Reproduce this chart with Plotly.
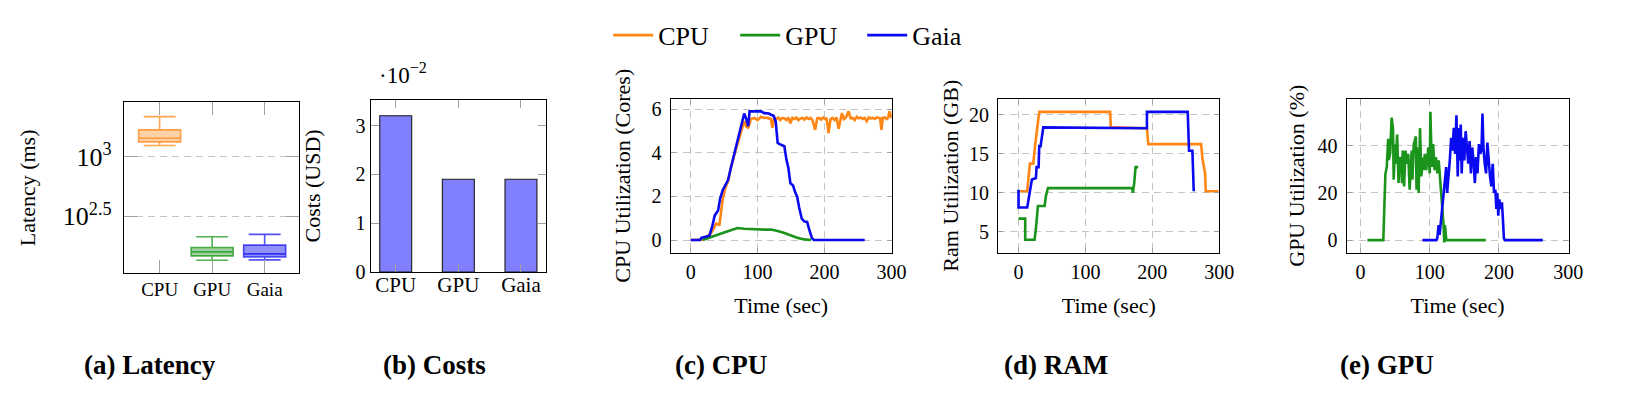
import plotly.graph_objects as go

W, H = 1635, 396
FONT = "Liberation Serif"

ORANGE = "#FF8514"
GREEN = "#1A941A"
BLUE = "#0A0AF0"

# ---------------- (a) Latency box statistics (ms) ----------------
LAT_CATS = ["CPU", "GPU", "Gaia"]
LAT_LOW = [1236, 136, 137]
LAT_Q1 = [1324, 148, 145]
LAT_MED = [1419, 160, 154]
LAT_Q3 = [1668, 174, 182]
LAT_HIGH = [2152, 214, 224]

# ---------------- (b) Costs (x 10^-2 USD) ----------------
COST_CATS = ["CPU", "GPU", "Gaia"]
COST_E2 = [3.2, 1.9, 1.9]

# ---------------- (c) CPU utilization (cores) ----------------
CPU_C_T = [0, 18, 22, 26, 30, 34, 38, 43, 48, 52,
           56, 60, 64, 68, 72, 76, 80, 83, 86, 90,
           95, 100, 105, 110, 115, 120, 122, 125, 128, 131,
           134, 137, 140, 143, 146, 149, 152, 155, 158, 161,
           164, 167, 170, 173, 176, 179, 182, 186, 189, 192,
           195, 198, 201, 203, 206, 209, 212, 215, 218, 221,
           224, 226, 229, 232, 236, 239, 242, 245, 248, 251,
           254, 257, 260, 263, 266, 269, 272, 275, 278, 281,
           283, 285, 287, 290, 293, 295, 297, 300]
CPU_C_V = [0, 0.02, 0.1, 0.2, 0.3, 0.5, 0.75, 0.7, 1.9, 2.4,
           2.7, 3.3, 3.8, 4.2, 4.6, 5.0, 5.45, 5.2, 5.15, 5.55,
           5.6, 5.5, 5.65, 5.6, 5.6, 5.55, 5.15, 5.6, 5.55, 5.62,
           5.5, 5.6, 5.58, 5.5, 5.62, 5.35, 5.6, 5.55, 5.62, 5.5,
           5.58, 5.6, 5.52, 5.62, 5.55, 5.6, 5.5, 5.05, 5.58, 5.6,
           5.52, 5.62, 5.55, 5.6, 4.9, 5.55, 5.6, 5.5, 5.62, 5.1,
           5.6, 5.82, 5.55, 5.62, 5.9, 5.58, 5.6, 5.5, 5.65, 5.58,
           5.62, 5.55, 5.6, 5.45, 5.62, 5.58, 5.6, 5.55, 5.62, 5.6,
           5.58, 5.05, 5.6, 5.62, 5.55, 5.6, 5.9, 5.6]

GPU_C_T = [18, 25, 30, 40, 50, 60, 70, 80, 90, 100,
           110, 120, 130, 140, 150, 160, 170, 175, 180]
GPU_C_V = [0, 0.08, 0.15, 0.25, 0.35, 0.45, 0.55, 0.52, 0.5, 0.5,
           0.48, 0.48, 0.42, 0.32, 0.2, 0.1, 0.03, 0, 0]

GAIA_C_T = [0, 14, 16, 22, 28, 32, 36, 41, 44, 48,
            52, 56, 60, 65, 70, 75, 80, 83, 86, 88,
            92, 97, 105, 110, 117, 120, 124, 127, 130, 133,
            137, 140, 143, 146, 149, 153, 156, 159, 162, 164,
            166, 170, 174, 177, 181, 184, 260]
GAIA_C_V = [0, 0, 0.1, 0.15, 0.2, 0.6, 1.13, 1.35, 1.9, 2.3,
            2.55, 2.76, 3.3, 3.95, 4.55, 5.14, 5.8, 5.55, 5.22, 5.9,
            5.9, 5.92, 5.9, 5.82, 5.8, 5.74, 5.7, 5.45, 4.45, 4.4,
            4.35, 4.3, 3.7, 3.3, 2.6, 2.5, 2.2, 2.0, 1.5, 1.2,
            0.98, 0.85, 0.83, 0.5, 0.1, 0, 0]

# ---------------- (d) RAM utilization (GB) ----------------
CPU_R_T = [0, 13, 17, 22, 25, 27, 31, 137, 138, 192, 194, 273, 275, 279, 280, 299]
CPU_R_V = [10.2, 10.2, 13.75, 13.75, 16.25, 17.9, 20.4, 20.4, 18.4, 18.3, 16.25, 16.25, 14.4, 12.5, 10.2, 10.2]

GPU_R_T = [0, 10, 10, 24, 26, 29, 39, 41, 44, 170, 171, 173, 175, 179]
GPU_R_V = [6.67, 6.67, 3.96, 3.96, 5.4, 8.3, 8.3, 9.6, 10.6, 10.6, 10.0, 11.25, 13.3, 13.3]

GAIA_R_T = [0, 0, 13, 17, 20, 26, 27, 30, 31, 33, 37, 192, 192, 253, 255, 260, 262]
GAIA_R_V = [10.4, 8.1, 8.1, 10.4, 11.7, 11.9, 13.3, 13.3, 16.0, 16.0, 18.4, 18.3, 20.4, 20.4, 15.4, 15.4, 10.2]

# ---------------- (e) GPU utilization (%) ----------------
GPU_G_T = [10, 33, 36, 38, 40, 41, 43, 45, 47, 48,
           50, 51, 53, 55, 56, 58, 60, 61, 63, 65,
           67, 69, 71, 74, 75, 77, 80, 81, 82, 84,
           86, 88, 90, 91, 93, 95, 98, 100, 101, 103,
           105, 107, 109, 111, 113, 115, 117, 118, 120, 121,
           122, 124, 181]
GPU_G_V = [0, 0, 28, 31, 43, 34, 37, 52, 47.5, 25.6,
           40.7, 32.4, 44.8, 24.2, 33.8, 35.2, 24.2, 38, 22.8, 38,
           32.4, 36.6, 21.4, 38, 25.6, 40.7, 44, 21.4, 39.3, 20,
           47.5, 27, 35, 29.7, 36.6, 29.7, 39.3, 28.3, 54.4, 31,
           40.7, 29.7, 35.2, 28.3, 33.8, 25.6, 20, 15.9, 6.3, -1,
           6.3, 0, 0]

GAIA_G_T = [89.5, 109.5, 111, 112.9, 114.3, 116.7, 119, 121.4, 123.8, 125.2,
            127.1, 129, 131, 132.9, 134.8, 136.7, 138.6, 140.5, 141.9, 143.3,
            144.8, 146.2, 148.1, 150, 151.9, 153.8, 155.7, 157.6, 159.5, 161.4,
            163.3, 165.2, 167.1, 169, 171, 172.9, 174.8, 176.2, 177.6, 179.5,
            181.4, 183.3, 185.2, 187.1, 189, 191, 192.9, 194.8, 196.2, 197.6,
            199, 200.5, 202.4, 204.3, 205.7, 207.1, 208.6, 263.3]
GAIA_G_V = [0, 0, 0.8, 6.3, 2.2, 10.4, 16, 22.8, 31, 20,
            25.6, 33.8, 43.4, 38, 47.6, 36.6, 53, 27, 47.6, 33.8,
            49, 28.3, 43.4, 33.8, 46.2, 38, 32.4, 42, 28.3, 39.3,
            33.8, 24.2, 35.2, 28.3, 40.7, 36.6, 38, 53.7, 39.3, 32.4,
            28.3, 41.4, 32.4, 27, 22.8, 32.4, 20, 21.4, 13.2, 20,
            10.4, 17.3, 13.2, 16, 9, 0.8, 0, 0]

TIME_TICKS = [0, 100, 200, 300]


def px_dom_x(x0, x1):
    return [x0 / W, x1 / W]


def px_dom_y(y0, y1):
    return [(H - y1) / H, (H - y0) / H]


GRID = "#C4C4C4"
TICKC = "#A0A0A0"


def axis(domain, anchor, rng, tickvals=None, ticktext=None, grid=True, ticklen=5,
         tfsize=20, title=None, title_size=22, standoff=10, atype="linear",
         griddash="7px,5px", ticklabelstandoff=None):
    d = dict(
        domain=domain, anchor=anchor, range=rng, type=atype,
        showline=True, linecolor="black", linewidth=1.3, mirror="allticks",
        ticks="inside", ticklen=ticklen, tickcolor=TICKC, tickwidth=1,
        showgrid=grid, gridcolor=GRID, gridwidth=1, griddash=griddash,
        zeroline=False, tickfont=dict(family=FONT, size=tfsize, color="black"),
        fixedrange=True,
    )
    if tickvals is not None:
        d["tickmode"] = "array"
        d["tickvals"] = tickvals
        if ticktext is not None:
            d["ticktext"] = ticktext
    if title:
        d["title"] = dict(text=title, font=dict(family=FONT, size=title_size, color="black"),
                          standoff=standoff)
    if ticklabelstandoff is not None:
        d["ticklabelstandoff"] = ticklabelstandoff
    return d


fig = go.Figure()

# (a) Latency box plots
box_line = ["rgba(255,133,20,0.75)", "rgba(26,148,26,0.75)", "rgba(10,10,240,0.7)"]
box_fill = ["rgba(255,133,20,0.38)", "rgba(26,148,26,0.42)", "rgba(10,10,240,0.45)"]
for i, cat in enumerate(LAT_CATS):
    fig.add_trace(go.Box(
        x=[cat], q1=[LAT_Q1[i]], median=[LAT_MED[i]], q3=[LAT_Q3[i]],
        lowerfence=[LAT_LOW[i]], upperfence=[LAT_HIGH[i]],
        boxpoints=False, width=0.8, whiskerwidth=0.76,
        line=dict(color=box_line[i], width=1.6), fillcolor=box_fill[i],
        showlegend=False, xaxis="x", yaxis="y", hoverinfo="skip",
    ))

# (b) Costs bars
fig.add_trace(go.Bar(
    x=COST_CATS, y=COST_E2, width=0.51,
    marker=dict(color="#8080FF", line=dict(color="#1a1a1a", width=1.1)),
    showlegend=False, xaxis="x2", yaxis="y2", hoverinfo="skip",
))

# (c) CPU
series_c = [("CPU", CPU_C_T, CPU_C_V, ORANGE), ("GPU", GPU_C_T, GPU_C_V, GREEN),
            ("Gaia", GAIA_C_T, GAIA_C_V, BLUE)]
for name, t, v, col in series_c:
    fig.add_trace(go.Scatter(x=t, y=v, mode="lines", name=name,
                             line=dict(color=col, width=2.6),
                             showlegend=True, xaxis="x3", yaxis="y3"))

# (d) RAM
for name, t, v, col in [("CPU", CPU_R_T, CPU_R_V, ORANGE), ("GPU", GPU_R_T, GPU_R_V, GREEN),
                        ("Gaia", GAIA_R_T, GAIA_R_V, BLUE)]:
    fig.add_trace(go.Scatter(x=t, y=v, mode="lines", name=name,
                             line=dict(color=col, width=2.6),
                             showlegend=False, xaxis="x4", yaxis="y4"))

# (e) GPU
for name, t, v, col in [("GPU", GPU_G_T, GPU_G_V, GREEN), ("Gaia", GAIA_G_T, GAIA_G_V, BLUE)]:
    fig.add_trace(go.Scatter(x=t, y=v, mode="lines", name=name,
                             line=dict(color=col, width=2.6),
                             showlegend=False, xaxis="x5", yaxis="y5"))

layout = dict(
    width=W, height=H, margin=dict(l=0, r=0, t=0, b=0),
    paper_bgcolor="white", plot_bgcolor="white",
    font=dict(family=FONT, color="black"),
    legend=dict(orientation="h", x=798 / W, xanchor="center", y=(H - 28) / H, yanchor="middle",
                font=dict(family=FONT, size=26, color="black"), bgcolor="rgba(0,0,0,0)",
                itemwidth=40, entrywidth=72, entrywidthmode="pixels", tracegroupgap=0),
    bargap=0.4,
)

# (a)
layout["xaxis"] = axis(px_dom_x(117, 294), "y", [-0.68, 2.66], grid=False, ticklen=13,
                       tfsize=19, atype="category", ticklabelstandoff=-1)
layout["yaxis"] = axis(px_dom_y(97, 273), "x", [2.024, 3.452], tickvals=[10 ** 2.5, 1000],
                       ticktext=["10<sup>2.5</sup>", "10<sup>3</sup>"], ticklen=13, tfsize=26,
                       title="Latency (ms)", title_size=22, standoff=21, atype="log",
                       ticklabelstandoff=6)
# (b)
layout["xaxis2"] = axis(px_dom_x(366, 543), "y2", [-0.4, 2.4], grid=False, ticklen=8,
                        tfsize=21, atype="category", ticklabelstandoff=-7)
layout["yaxis2"] = axis(px_dom_y(94.3, 271.7), "x2", [0, 3.53], tickvals=[0, 1, 2, 3],
                        grid=False, ticklen=8, tfsize=20, title="Costs (USD)", title_size=22,
                        standoff=28)
# (c)
layout["xaxis3"] = axis(px_dom_x(668.7, 892), "y3", [-30, 300.5], tickvals=TIME_TICKS,
                        title="Time (sec)", standoff=15, ticklabelstandoff=1)
layout["yaxis3"] = axis(px_dom_y(93.3, 251.7), "x3", [-0.58, 6.48], tickvals=[0, 2, 4, 6],
                        title="CPU Utilization (Cores)", standoff=14, ticklabelstandoff=4)
# (d)
layout["xaxis4"] = axis(px_dom_x(999.3, 1222.7), "y4", [-30.5, 300.5], tickvals=TIME_TICKS,
                        title="Time (sec)", standoff=15, ticklabelstandoff=1)
layout["yaxis4"] = axis(px_dom_y(93.3, 251.7), "x4", [2.29, 22.09], tickvals=[5, 10, 15, 20],
                        title="Ram Utilization (GB)", standoff=4, ticklabelstandoff=4)
# (e)
layout["xaxis5"] = axis(px_dom_x(1351, 1575), "y5", [-20, 300.5], tickvals=TIME_TICKS,
                        title="Time (sec)", standoff=15, ticklabelstandoff=1)
layout["yaxis5"] = axis(px_dom_y(93.3, 251.7), "x5", [-5.36, 60], tickvals=[0, 20, 40],
                        title="GPU Utilization (%)", standoff=6, ticklabelstandoff=4)

annotations = [
    dict(text="·10<sup>−2</sup>", x=372 / W, y=(H - 67) / H, xref="paper", yref="paper",
         xanchor="left", yanchor="middle", showarrow=False,
         font=dict(family=FONT, size=23, color="black")),
]
CAPTIONS = ["(a) Latency", "(b) Costs", "(c) CPU", "(d) RAM", "(e) GPU"]
CAP_X = [143, 430, 720, 1058, 1392]
for txt, cx in zip(CAPTIONS, CAP_X):
    annotations.append(dict(text="<b>" + txt + "</b>", x=cx / W, y=(H - 367) / H,
                            xref="paper", yref="paper", xanchor="center", yanchor="middle",
                            showarrow=False, font=dict(family=FONT, size=27, color="black")))
layout["annotations"] = annotations

fig.update_layout(**layout)
fig.write_html("out.html")
